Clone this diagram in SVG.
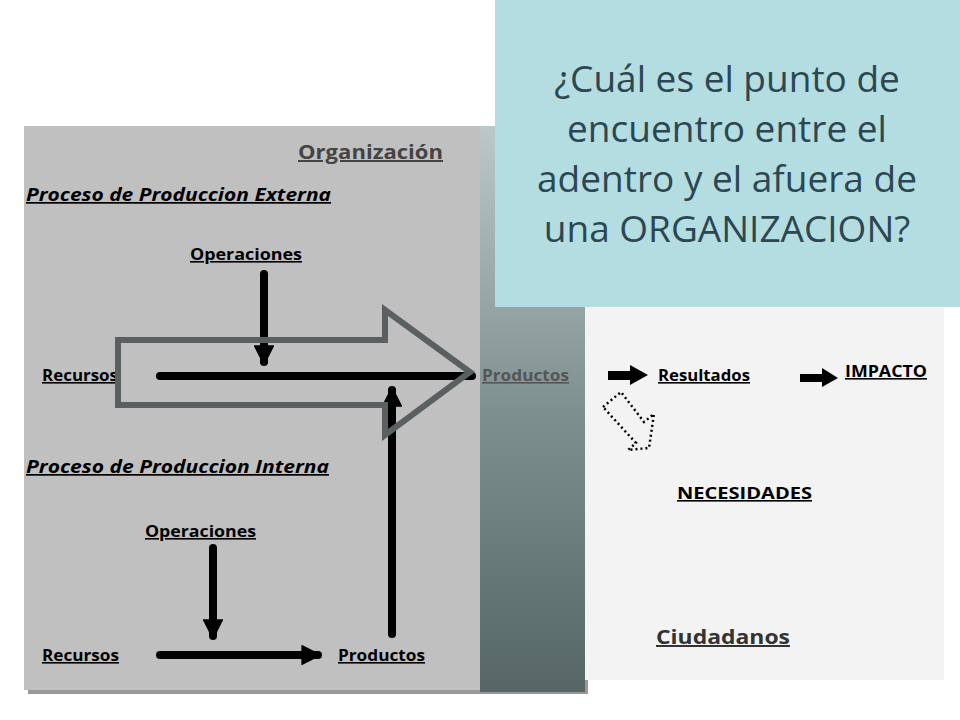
<svg xmlns="http://www.w3.org/2000/svg" width="960" height="720" viewBox="0 0 960 720">
<defs>
<linearGradient id="col" x1="0" y1="0" x2="0" y2="1"><stop offset="0" stop-color="#bcc8c8"/><stop offset="0.5" stop-color="#7f9090"/><stop offset="1" stop-color="#566666"/></linearGradient>
<marker id="ah" viewBox="0 0 10 10" refX="8" refY="5" markerWidth="2.6" markerHeight="2.6" orient="auto"><path d="M0,0L10,5L0,10z" fill="#000"/></marker>
</defs>
<style>
.t{font-family:"Open Sans","Liberation Sans",sans-serif;font-weight:bold;font-size:16px;fill:#000;text-decoration:underline}
.i{font-style:italic;font-size:17px}
.ln{stroke:#000;stroke-width:8;stroke-linecap:round;fill:none}
.title{font-family:"Open Sans","Liberation Sans",sans-serif;font-size:37px;fill:#2c4652;text-anchor:middle}
</style>
<rect width="960" height="720" fill="#fff"/>
<rect x="28" y="130" width="560" height="564" fill="#999"/>
<rect x="24" y="126" width="560" height="564" fill="#c0c0c0"/>
<rect x="575" y="126" width="369" height="554" fill="#f3f3f3"/>
<rect x="480" y="126" width="105" height="566" fill="url(#col)"/>
<g id="labels">
<text class="t" x="298" y="159" textLength="145" lengthAdjust="spacingAndGlyphs" style="font-size:20px;fill:#444">Organización</text>
<text class="t i" x="26" y="201" textLength="305" lengthAdjust="spacingAndGlyphs">Proceso de Produccion Externa</text>
<text class="t" x="190" y="260" textLength="112" lengthAdjust="spacingAndGlyphs">Operaciones</text>
<text class="t" x="42" y="381" textLength="76" lengthAdjust="spacingAndGlyphs">Recursos</text>
<text class="t" x="482" y="381" textLength="87" lengthAdjust="spacingAndGlyphs" style="fill:#555">Productos</text>
<text class="t i" x="26" y="473" textLength="303" lengthAdjust="spacingAndGlyphs">Proceso de Produccion Interna</text>
<text class="t" x="145" y="537" textLength="111" lengthAdjust="spacingAndGlyphs">Operaciones</text>
<text class="t" x="42" y="661" textLength="77" lengthAdjust="spacingAndGlyphs">Recursos</text>
<text class="t" x="338" y="661" textLength="87" lengthAdjust="spacingAndGlyphs">Productos</text>
<text class="t" x="658" y="381" textLength="92" lengthAdjust="spacingAndGlyphs">Resultados</text>
<text class="t" x="845" y="377" textLength="82" lengthAdjust="spacingAndGlyphs">IMPACTO</text>
<text class="t" x="677" y="499" textLength="135" lengthAdjust="spacingAndGlyphs">NECESIDADES</text>
<text class="t" x="656" y="644" textLength="134" lengthAdjust="spacingAndGlyphs" style="font-size:20px;fill:#333">Ciudadanos</text>
</g>
<g id="connectors">
<path class="ln" d="M160,376H472"/>
<path class="ln" d="M264,274V362" marker-end="url(#ah)"/>
<path class="ln" d="M392,634V390" marker-end="url(#ah)"/>
<path class="ln" d="M213,548V636" marker-end="url(#ah)"/>
<path class="ln" d="M160,655H318" marker-end="url(#ah)"/>
<path d="M608,371H630V365L648,375L630,385V380H608Z" fill="#000"/>
<path d="M800,374H822V368L838,378L822,387V382H800Z" fill="#000"/>
<path d="M603,407L621,392L644,422L654,414L649,448L628,450L636,443Z" fill="none" stroke="#000" stroke-width="2.5" stroke-dasharray="2,3"/>
<polygon points="118,340 385,340 385,310 470,372 385,435 385,405 118,405" fill="none" stroke="#5a5f62" stroke-width="6"/>
</g>
<g id="question">
<rect x="495" y="0" width="465" height="307" fill="#b3dde0"/>
<text class="title" x="727" y="92">¿Cuál es el punto de</text>
<text class="title" x="727" y="142">encuentro entre el</text>
<text class="title" x="727" y="192">adentro y el afuera de</text>
<text class="title" x="727" y="242">una ORGANIZACION?</text>
</g>
</svg>
